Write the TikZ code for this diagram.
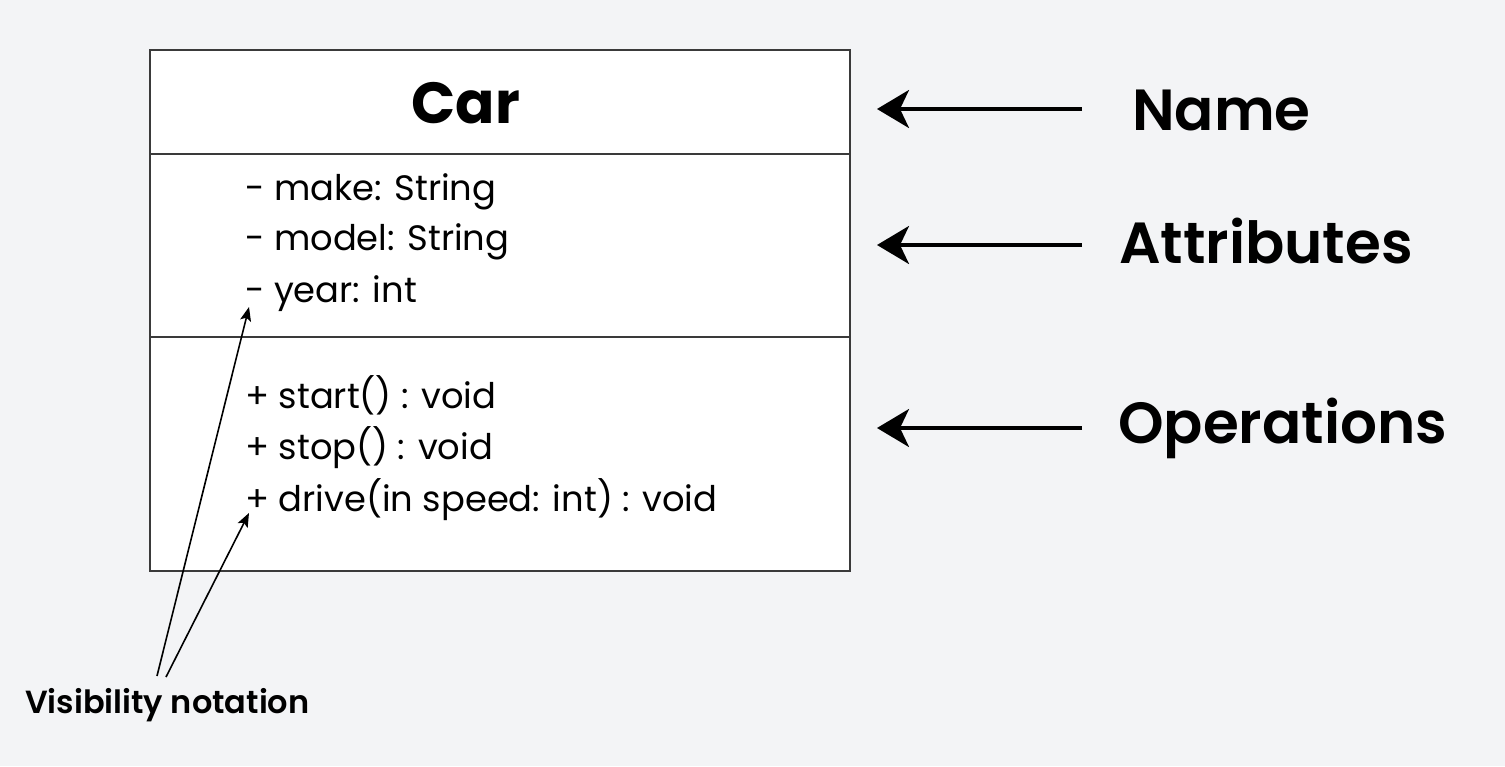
\documentclass[tikz,border=0pt]{standalone}
\usepackage{fontspec}
\setmainfont{Poppins}
\newfontfamily\semib{Poppins SemiBold}
\usetikzlibrary{arrows.meta}
\definecolor{bg}{HTML}{F3F4F6}
\definecolor{edgecol}{HTML}{3A3A3A}
\begin{document}
\begin{tikzpicture}[x=1pt,y=-1pt,
  compartment/.style={draw=edgecol, line width=1.8pt, fill=white, anchor=north west, minimum width=700pt, inner sep=0pt, outer sep=0pt},
  member/.style={anchor=base west, inner sep=0pt, font=\fontsize{35.3}{40}\selectfont},
  label/.style={anchor=base west, inner sep=0pt, font=\fontsize{58}{64}\selectfont\semib},
  bigarrow/.style={line width=3.5pt, -{Stealth[length=32pt,width=38pt,inset=9pt]}},
  smallarrow/.style={line width=1.6pt, -{Stealth[length=14pt,width=11pt,inset=3pt]}}
]
\fill[bg] (0,0) rectangle (1505,766);
\useasboundingbox (0,0) rectangle (1505,766);

% class box compartments
\node[compartment, minimum height=104pt] (namebox) at (150,50) {};
\node[compartment, minimum height=183pt] (attrbox) at (150,154) {};
\node[compartment, minimum height=234pt] (opbox) at (150,337) {};

% class name
\node[anchor=base, inner sep=0pt, font=\fontsize{58}{66}\selectfont\bfseries] (car) at (466,123) {Car};

% attributes
\node[member] (make) at (245,200) {- make: String};
\node[member] (model) at (245,250) {- model: String};
\node[member] (year) at (245,302) {- year: int};

% operations
\node[member] (start) at (245,408) {+ start() : void};
\node[member] (stop) at (245,459) {+ stop() : void};
\node[member] (drive) at (245,511) {+ drive(in speed: int) : void};

% right-hand labels
\node[label] (lname) at (1132,130) {Name};
\node[label] (lattr) at (1119,263) {Attributes};
\node[label] (lops) at (1118,443) {Operations};

\coordinate (nameTail) at (1082,109);
\coordinate (nameTip) at (877,109);
\coordinate (attrTail) at (1082,245);
\coordinate (attrTip) at (877,245);
\coordinate (opsTail) at (1082,428);
\coordinate (opsTip) at (877,428);
\draw[bigarrow] (nameTail) -- (nameTip);
\draw[bigarrow] (attrTail) -- (attrTip);
\draw[bigarrow] (opsTail) -- (opsTip);

% visibility notation
\node[anchor=base west, inner sep=0pt, font=\fontsize{32}{36}\selectfont\semib] (vis) at (25,713) {Visibility notation};
\coordinate (visA) at (157,676);
\coordinate (visB) at (166,677);
\coordinate (yearTip) at (249,307);
\coordinate (driveTip) at (249,513);
\draw[smallarrow] (visA) -- (yearTip);
\draw[smallarrow] (visB) -- (driveTip);
\end{tikzpicture}
\end{document}
